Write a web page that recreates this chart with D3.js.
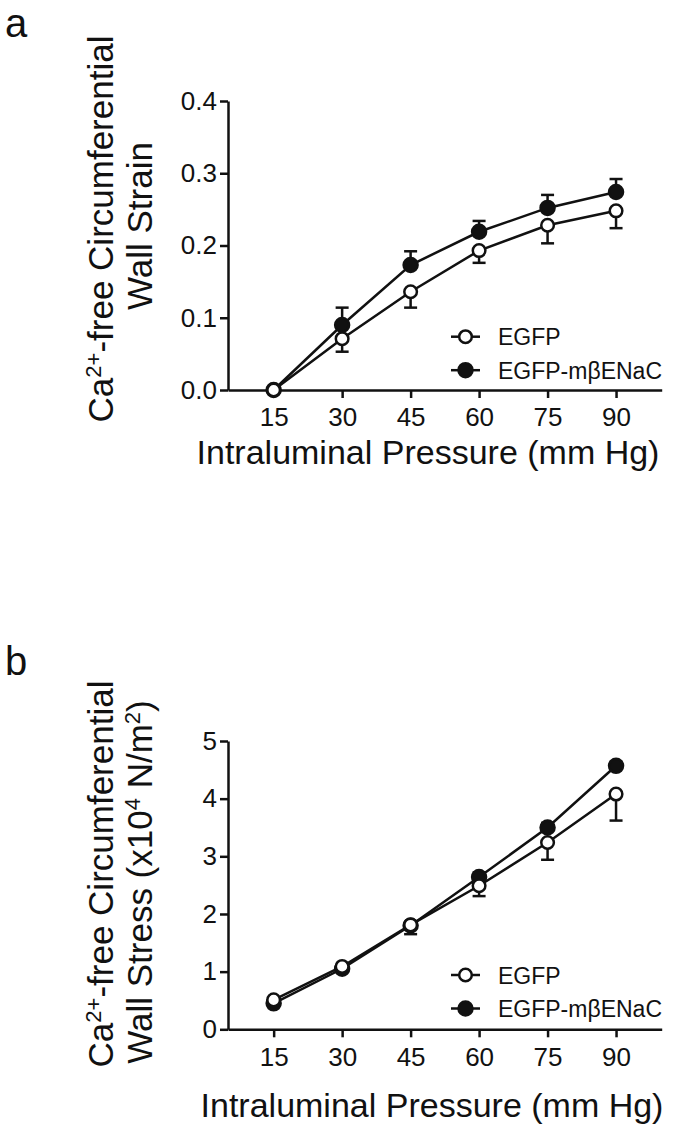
<!DOCTYPE html>
<html>
<head>
<meta charset="utf-8">
<script src="https://cdn.jsdelivr.net/npm/d3@7/dist/d3.min.js"></script>
<style>
  body { margin: 0; background: #fff; }
  svg text { font-family: Arial, "Liberation Sans", Helvetica, sans-serif; fill: #111; }
  .axis path, .axis line { stroke: #111; stroke-width: 2.5; }
  .axis text { font-size: 26px; fill: #111; }
</style>
</head>
<body>
<div id="chart"></div>
<script>
// data
var pressure = [15, 30, 45, 60, 75, 90];

var strainEGFP     = [0, 0.071, 0.136, 0.193, 0.228, 0.248];
var strainEGFPerr  = [0, 0.018, 0.022, 0.017, 0.025, 0.024];
var strainENaC     = [0, 0.090, 0.173, 0.219, 0.252, 0.274];
var strainENaCerr  = [0, 0.024, 0.019, 0.015, 0.018, 0.018];

var stressEGFP     = [0.51, 1.09, 1.81, 2.49, 3.24, 4.08];
var stressEGFPerr  = [0.05, 0.05, 0.16, 0.18, 0.30, 0.46];
var stressENaC     = [0.45, 1.05, 1.80, 2.64, 3.50, 4.57];
var stressENaCerr  = [0.04, 0.05, 0.06, 0.08, 0.08, 0.07];

var strainTicks = [0, 0.1, 0.2, 0.3, 0.4];
var stressTicks = [0, 1, 2, 3, 4, 5];
var seriesNames = ["EGFP", "EGFP-m\u03b2ENaC"];

var width = 673, height = 1127;

var svg = d3.select("#chart").append("svg")
    .attr("width", width)
    .attr("height", height);

// append a run of text parts, superscripts raised then lowered again
function richText(el, parts) {
    var raised = false;
    parts.forEach(function (p) {
        if (p.sup) {
            el.append("tspan").attr("dy", raised ? 0 : -12).style("font-size", "22px").text(p.sup);
            raised = true;
        } else {
            el.append("tspan").attr("dy", raised ? 12 : 0).text(p.t);
            raised = false;
        }
    });
}

function drawPanel(opt) {
    var x = d3.scaleLinear().domain([5, 100]).range([228, 661.7]);
    var y = d3.scaleLinear().domain(opt.yDomain).range([opt.bottom, opt.top]);

    var g = svg.append("g");

    // panel letter
    g.append("text")
        .attr("x", 5).attr("y", opt.letterY)
        .style("font-size", "40px")
        .text(opt.letter);

    // axes
    g.append("g").attr("class", "axis")
        .attr("transform", "translate(0," + opt.bottom + ")")
        .call(d3.axisBottom(x).tickValues(pressure).tickSize(8).tickSizeOuter(0).tickPadding(10)
            .tickFormat(d3.format("d")));

    g.append("g").attr("class", "axis")
        .attr("transform", "translate(228,0)")
        .call(d3.axisLeft(y).tickValues(opt.yTicks).tickSize(8).tickSizeOuter(0).tickPadding(3)
            .tickFormat(d3.format(opt.yFormat)));

    // x title
    g.append("text")
        .attr("x", opt.xTitleX).attr("y", opt.xTitleY)
        .attr("text-anchor", "middle")
        .style("font-size", "34px")
        .text("Intraluminal Pressure (mm Hg)");

    // y title (two lines, rotated)
    var t1 = g.append("text")
        .attr("transform", "translate(113," + opt.yTitleC + ") rotate(-90)")
        .attr("text-anchor", "middle")
        .style("font-size", "35px");
    richText(t1, [{ t: "Ca" }, { sup: "2+" }, { t: "-free Circumferential" }]);

    var t2 = g.append("text")
        .attr("transform", "translate(152," + opt.yTitleC2 + ") rotate(-90)")
        .attr("text-anchor", "middle")
        .style("font-size", "35px");
    richText(t2, opt.line2);

    var line = d3.line()
        .x(function (d) { return x(d.p); })
        .y(function (d) { return y(d.v); });

    // filled series first, open series drawn on top
    var series = [
        { vals: opt.filled, err: opt.filledErr, fill: "#111", dir: 1, r: 7 },
        { vals: opt.open, err: opt.openErr, fill: "#fff", dir: -1, r: 6.3 }
    ];

    series.forEach(function (s) {
        var pts = pressure.map(function (p, i) { return { p: p, v: s.vals[i], e: s.err[i] }; });

        g.append("path")
            .datum(pts)
            .attr("d", line)
            .attr("fill", "none")
            .attr("stroke", "#111")
            .attr("stroke-width", 2.5);

        var eb = g.selectAll(null).data(pts).enter().append("g");
        eb.append("line")
            .attr("x1", function (d) { return x(d.p); })
            .attr("x2", function (d) { return x(d.p); })
            .attr("y1", function (d) { return y(d.v); })
            .attr("y2", function (d) { return y(d.v + s.dir * d.e); })
            .attr("stroke", "#111").attr("stroke-width", 2.5);
        eb.filter(function (d) { return d.e > 0; }).append("line")
            .attr("x1", function (d) { return x(d.p) - 6.5; })
            .attr("x2", function (d) { return x(d.p) + 6.5; })
            .attr("y1", function (d) { return y(d.v + s.dir * d.e); })
            .attr("y2", function (d) { return y(d.v + s.dir * d.e); })
            .attr("stroke", "#111").attr("stroke-width", 2.5);

        g.selectAll(null).data(pts).enter().append("circle")
            .attr("cx", function (d) { return x(d.p); })
            .attr("cy", function (d) { return y(d.v); })
            .attr("r", s.r)
            .attr("fill", s.fill)
            .attr("stroke", "#111")
            .attr("stroke-width", 2.5);
    });

    // legend
    var lg = g.append("g");
    var legendRows = [
        { name: seriesNames[0], fill: "#fff", r: 6.3, y: opt.legendY },
        { name: seriesNames[1], fill: "#111", r: 7, y: opt.legendY + 33.5 }
    ];
    legendRows.forEach(function (row) {
        lg.append("line")
            .attr("x1", 451).attr("x2", 480)
            .attr("y1", row.y).attr("y2", row.y)
            .attr("stroke", "#111").attr("stroke-width", 2.5);
        lg.append("circle")
            .attr("cx", 465.5).attr("cy", row.y).attr("r", row.r)
            .attr("fill", row.fill).attr("stroke", "#111").attr("stroke-width", 2.5);
        lg.append("text")
            .attr("x", 498).attr("y", row.y + 8.5)
            .style("font-size", "23px")
            .text(row.name);
    });
}

drawPanel({
    letter: "a", letterY: 37,
    top: 101, bottom: 390,
    yDomain: [0, 0.4], yTicks: strainTicks, yFormat: ".1f",
    open: strainEGFP, openErr: strainEGFPerr,
    filled: strainENaC, filledErr: strainENaCerr,
    xTitleX: 428, xTitleY: 464,
    yTitleC: 229, yTitleC2: 226,
    line2: [{ t: "Wall Strain" }],
    legendY: 336.7
});

drawPanel({
    letter: "b", letterY: 675,
    top: 741, bottom: 1029.3,
    yDomain: [0, 5], yTicks: stressTicks, yFormat: "d",
    open: stressEGFP, openErr: stressEGFPerr,
    filled: stressENaC, filledErr: stressENaCerr,
    xTitleX: 432, xTitleY: 1116.5,
    yTitleC: 874, yTitleC2: 882,
    line2: [{ t: "Wall Stress (x10" }, { sup: "4" }, { t: " N/m" }, { sup: "2" }, { t: ")" }],
    legendY: 975
});
</script>
</body>
</html>
